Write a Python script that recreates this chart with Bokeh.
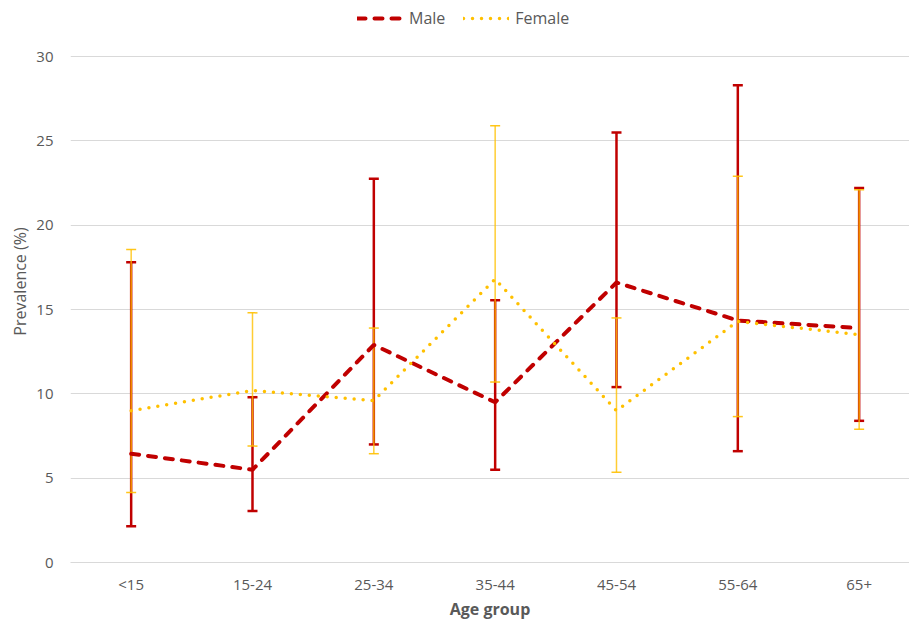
from bokeh.plotting import figure
from bokeh.models import (ColumnDataSource, Whisker, TeeHead, Range1d, FixedTicker,
                          Legend, LegendItem)
from bokeh.embed import file_html
from bokeh.resources import INLINE

# ---- data ----
categories = ["<15", "15-24", "25-34", "35-44", "45-54", "55-64", "65+"]
male = [6.45, 5.5, 12.9, 9.5, 16.6, 14.35, 13.9]
male_lower = [2.15, 3.05, 7.0, 5.5, 10.4, 6.6, 8.4]
male_upper = [17.8, 9.8, 22.75, 15.55, 25.5, 28.3, 22.2]
female = [9.0, 10.2, 9.6, 16.8, 9.0, 14.3, 13.5]
female_lower = [4.15, 6.9, 6.45, 10.7, 5.35, 8.65, 7.9]
female_upper = [18.55, 14.8, 13.9, 25.9, 14.5, 22.9, 22.1]
y_ticks = [0, 5, 10, 15, 20, 25, 30]

FONT = "Open Sans"
TXT = "#595959"
RED = "#C00000"
YEL = "#FFC000"

xs = [i + 0.5 for i in range(len(categories))]
src_m = ColumnDataSource(dict(x=xs, y=male, lower=male_lower, upper=male_upper))
src_f = ColumnDataSource(dict(x=xs, y=female, lower=female_lower, upper=female_upper))

# frame spans the full height above the x axis; y=30 lands 56px below the top
p = figure(width=909, height=622, output_backend="svg", toolbar_location=None,
           x_range=Range1d(0, 6.915), y_range=Range1d(0, 30 * 562 / 506),
           min_border_left=70, min_border_top=0, min_border_right=0,
           min_border_bottom=60)
p.outline_line_color = None
p.background_fill_color = "white"
p.border_fill_color = "white"

# grid
p.xgrid.grid_line_color = None
p.ygrid.grid_line_color = "#D9D9D9"
p.ygrid.grid_line_width = 1

# axes
p.xaxis.ticker = FixedTicker(ticks=xs)
p.xaxis.major_label_overrides = {x: c for x, c in zip(xs, categories)}
p.yaxis.ticker = FixedTicker(ticks=y_ticks)
for ax in (p.xaxis[0], p.yaxis[0]):
    ax.major_tick_line_color = None
    ax.minor_tick_line_color = None
    ax.major_tick_out = 0
    ax.major_tick_in = 0
    ax.major_label_text_font = FONT
    ax.major_label_text_font_size = "15px"
    ax.major_label_text_color = TXT
    ax.axis_label_text_font = FONT
    ax.axis_label_text_color = TXT
    ax.axis_label_text_font_size = "16px"
p.xaxis.axis_line_color = "#D9D9D9"
p.yaxis.axis_line_color = None
p.xaxis.axis_label = "Age group"
p.xaxis.axis_label_text_font_style = "bold"
p.xaxis.major_label_standoff = 11
p.xaxis.axis_label_standoff = 1
p.yaxis.axis_label = "Prevalence (%)"
p.yaxis.axis_label_text_font_style = "normal"
p.yaxis.major_label_standoff = 17
p.yaxis.axis_label_standoff = 2

# error bars
wm = Whisker(base="x", lower="lower", upper="upper", source=src_m,
             line_color=RED, line_width=2.5,
             upper_head=TeeHead(size=10, line_color=RED, line_width=2.5),
             lower_head=TeeHead(size=10, line_color=RED, line_width=2.5))
wf = Whisker(base="x", lower="lower", upper="upper", source=src_f,
             line_color=YEL, line_width=1.5, line_alpha=0.8,
             upper_head=TeeHead(size=10, line_color=YEL, line_width=1.5, line_alpha=0.9),
             lower_head=TeeHead(size=10, line_color=YEL, line_width=1.5, line_alpha=0.9))
p.add_layout(wm)
p.add_layout(wf)

# lines
rm = p.line("x", "y", source=src_m, line_color=RED, line_width=4,
            line_dash="8 9", line_cap="round")
rf = p.line("x", "y", source=src_f, line_color=YEL, line_width=3.5,
            line_dash="0 9", line_cap="round")

legend = Legend(items=[LegendItem(label="Male", renderers=[rm]),
                       LegendItem(label="Female", renderers=[rf])],
                orientation="horizontal", location=(287, 533),
                label_text_font=FONT, label_text_font_size="16px",
                label_text_color=TXT, glyph_width=46, glyph_height=20,
                label_standoff=6, spacing=18, padding=0, margin=0,
                border_line_alpha=0, background_fill_alpha=0)
p.add_layout(legend)

open("out.html", "w").write(file_html(p, INLINE))
